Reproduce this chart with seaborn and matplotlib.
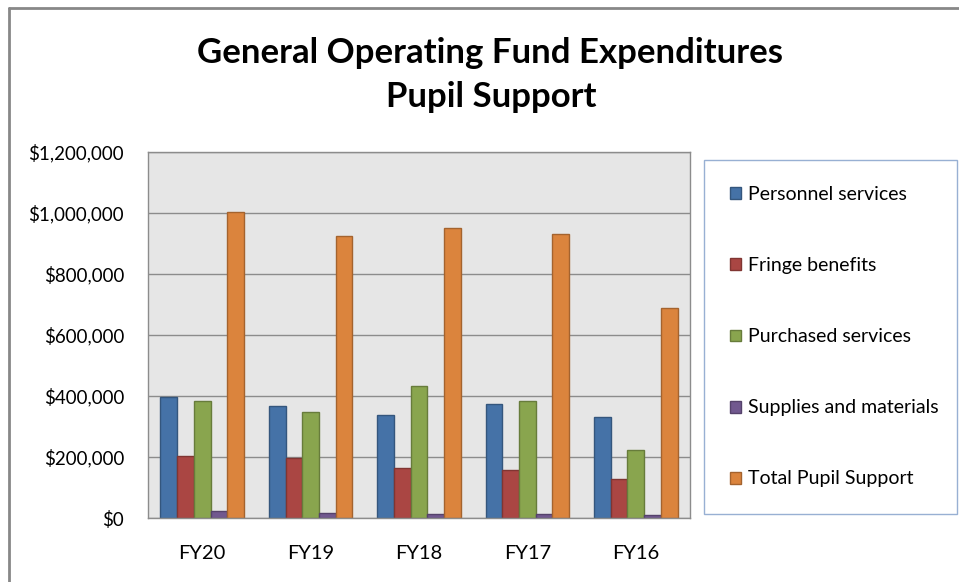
import numpy as np
import pandas as pd
import seaborn as sns
import matplotlib.pyplot as plt
from matplotlib.lines import Line2D
from matplotlib.ticker import FuncFormatter
import matplotlib.colors as mcolors

years = ["FY20", "FY19", "FY18", "FY17", "FY16"]
series = ["Personnel services", "Fringe benefits", "Purchased services",
          "Supplies and materials", "Total Pupil Support"]
personnel = [397000, 366000, 337000, 375000, 330000]
fringe = [202000, 198000, 164000, 156000, 127000]
purchased = [383000, 346000, 434000, 383000, 223000]
supplies = [22000, 17500, 13000, 13000, 9000]
total = [1003000, 925000, 952000, 931000, 690000]
colors = ["#4572A7", "#AA4643", "#89A54E", "#71588F", "#DB843D"]

rows = []
for name, vals in zip(series, [personnel, fringe, purchased, supplies, total]):
    for y, v in zip(years, vals):
        rows.append({"year": y, "series": name, "value": v})
df = pd.DataFrame(rows)

sns.set_style("white")
plt.rcParams["font.family"] = ["Lato", "DejaVu Sans"]
plt.rcParams["text.color"] = "black"

W, H = 959, 582
fig = plt.figure(figsize=(W / 100, H / 100), dpi=100)

def px(x0, y0, x1, y1):
    return [x0 / W, 1 - y1 / H, (x1 - x0) / W, (y1 - y0) / H]

ax = fig.add_axes(px(148, 152, 690, 518))
ax.set_facecolor("#E6E6E6")
sns.barplot(data=df, x="year", y="value", hue="series", palette=colors,
            width=0.77, gap=0, ax=ax, legend=True, saturation=1)

# darker outline on each bar, like the original
for p in ax.patches:
    fc = mcolors.to_rgb(p.get_facecolor())
    p.set_edgecolor(tuple(c * 0.75 for c in fc))
    p.set_linewidth(1)

ax.set_ylim(0, 1200000)
ax.set_yticks(np.arange(0, 1200001, 200000))
ax.yaxis.set_major_formatter(FuncFormatter(lambda v, _: f"${v:,.0f}"))
ax.grid(axis="y", color="#8C8C8C", linewidth=1)
ax.set_axisbelow(True)
for s in ax.spines.values():
    s.set_color("#8C8C8C")
    s.set_linewidth(1)
ax.set_xlabel("")
ax.set_ylabel("")
ax.tick_params(axis="y", labelsize=13.5, pad=17.3, length=0, colors="black")
ax.tick_params(axis="x", labelsize=14.5, pad=19.5, length=0, colors="black")

handles, labels = ax.get_legend_handles_labels()
ax.legend_.remove()
leg = fig.legend(handles, labels, loc="upper left",
                 bbox_to_anchor=(704 / W, 1 - 512 / H, (957 - 704) / W, (512 - 160) / H),
                 mode="expand", frameon=True, fontsize=14, labelspacing=2.78,
                 handlelength=0.57, handleheight=0.57, handletextpad=0.36,
                 borderpad=1.35, borderaxespad=0, fancybox=False)
leg.get_frame().set_edgecolor("#7F9DC9")
leg.get_frame().set_linewidth(1)
for t in leg.get_texts():
    t.set_color("black")

fig.text(490 / W, 1 - 53 / H, "General Operating Fund Expenditures",
         ha="center", va="center", fontsize=25, fontweight="bold", color="black")
fig.text(491 / W, 1 - 97 / H, "Pupil Support",
         ha="center", va="center", fontsize=25, fontweight="bold", color="black")

fig.add_artist(Line2D([9 / W, 9 / W], [0, 1 - 8 / H], transform=fig.transFigure,
                      color="#888888", linewidth=2))
fig.add_artist(Line2D([9 / W, 1], [1 - 8 / H, 1 - 8 / H], transform=fig.transFigure,
                      color="#888888", linewidth=2))

fig.savefig("out.png", dpi=100)
